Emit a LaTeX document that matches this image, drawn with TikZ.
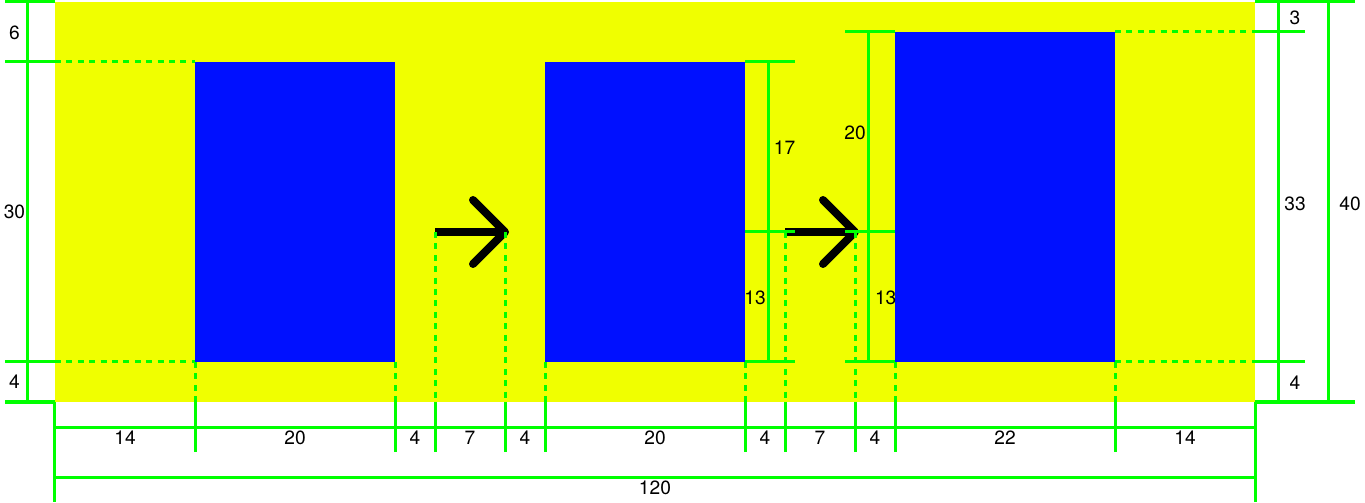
\documentclass[tikz,border=0pt]{standalone}
\usepackage{fontspec}
\setmainfont{TeX Gyre Heros}
\usetikzlibrary{positioning}
\definecolor{bgyellow}{RGB}{240,255,0}
\definecolor{boxblue}{RGB}{0,16,255}
\definecolor{dimgreen}{RGB}{0,255,0}

\begin{document}
\begin{tikzpicture}[x=5pt,y=5pt,
    dim/.style={draw=dimgreen,line width=1.5pt},
    ext/.style={dim,dash pattern=on 3pt off 2.7pt},
    arr/.style={draw=black,line width=4pt},
    lbl/.style={inner sep=0pt,font=\fontsize{9.6}{11}\selectfont}]
\useasboundingbox (-5.5,-10.1) rectangle (131,40.2);
\fill[bgyellow] (0,0) rectangle (120,40);
\fill[boxblue] (14,4) rectangle (34,34);
\fill[boxblue] (49,4) rectangle (69,34);
\fill[boxblue] (84,4) rectangle (106,37);
% arrows
\foreach \x in {38,73} {
  \draw[arr] (\x,17) -- (\x+7,17);
  \draw[arr,line cap=round,line join=round] (\x+3.8,20.2) -- (\x+7,17) -- (\x+3.8,13.8);
}
% left
\draw[dim] (-2.7,40) -- (-2.7,0);
\foreach \y in {40,34,4,0} \draw[dim] (-5,\y) -- (0,\y);
\foreach \y in {34,4} \draw[ext] (0,\y) -- (14,\y);
\node[lbl] (top) at (-4.05,36.9) {6};
\node[lbl] (high) at (-4.05,19) {30};
\node[lbl] (low) at (-4.05,2) {4};
% bottom
\draw[dim] (0,-2.5) -- (120,-2.5);
\draw[dim] (0,-7.5) -- (120,-7.5);
\foreach \x in {0,120} \draw[dim] (\x,0) -- (\x,-10);
\foreach \x/\y in {14/4,34/4,38/17,45/17,49/4,69/4,73/17,80/17,84/4,106/4} {
  \draw[ext] (\x,\y) -- (\x,0);
  \draw[dim] (\x,0) -- (\x,-5);
}
\foreach \a/\t [count=\i] in {7/14,24/20,36/4,41.5/7,47/4,60/20,71/4,76.5/7,82/4,95/22,113/14}
  \node[lbl] (w\i) at (\a,-3.55) {\t};
\node[lbl] (total) at (60,-8.55) {120};
% middle
\draw[dim] (71.3,34) -- (71.3,4);
\foreach \y in {34,17,4} \draw[dim] (69,\y) -- (74,\y);
\draw[dim] (81.3,37) -- (81.3,4);
\foreach \y in {37,17,4} \draw[dim] (79,\y) -- (84,\y);
\node[lbl] (up1) at (72.95,25.45) {17};
\node[lbl] (dn1) at (70,10.45) {13};
\node[lbl] (up2) at (80,26.9) {20};
\node[lbl] (dn2) at (83.07,10.45) {13};
% right
\draw[dim] (122.3,40) -- (122.3,0);
\draw[dim] (127.3,40) -- (127.3,0);
\foreach \y in {40,0} \draw[dim] (120,\y) -- (130,\y);
\foreach \y in {37,4} {
  \draw[ext] (106,\y) -- (120,\y);
  \draw[dim] (120,\y) -- (125,\y);
}
\node[lbl] (rtop) at (124,38.45) {3};
\node[lbl] (rhigh) at (124,19.85) {33};
\node[lbl] (rlow) at (124,1.95) {4};
\node[lbl] (all) at (129.5,19.85) {40};
\end{tikzpicture}
\end{document}
